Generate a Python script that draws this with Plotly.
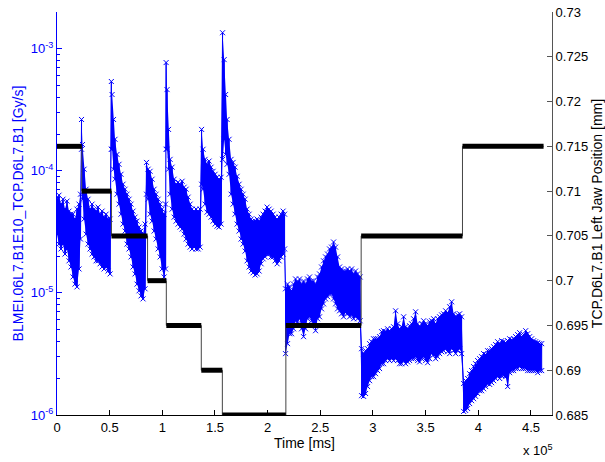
import plotly.graph_objects as go

# ---- BLM loss rate: upper / lower envelope of the sampled signal [Gy/s] ----
time_ms = [
    0, 1900, 3800, 5700, 7600, 9500, 11400, 13300, 15200, 17100, 19000, 20900, 22300,
    23300, 24200, 25700, 27600, 29500, 31400, 33300, 35200, 37100, 39000, 40900, 42800,
    44700, 46600, 48500, 50400,
    51600, 52300, 53700, 55100, 57000, 58900, 60800, 62700, 64600, 66500, 68400, 70300,
    72200, 74100, 76000, 77900, 79800, 81700, 83600,
    85000, 86500, 88400, 90300, 92200, 94100, 96000, 97900, 99800, 101700, 103100,
    103600, 104500, 105900, 107400, 109300, 111200, 113100, 115000, 116900, 118800,
    120700, 122600, 124500, 126400, 128300, 130200, 132100, 134000, 135900,
    137300, 138700, 140600, 142500, 144400, 146300, 148200, 150100, 152000, 153900, 155800,
    157200, 158700, 160100, 161500, 163400, 165300, 167200, 169100, 171000, 172900,
    174800, 176700, 178600, 180500, 182400, 184300, 186200, 188100, 190000, 191900,
    193800, 195700, 197600, 199500, 201400, 203300, 205200, 207100, 209000, 210900,
    212800, 214700, 216100,
    217000, 218900, 220800, 222700, 224600, 226500, 228400, 230300, 232200, 234100,
    236000, 237900, 239800, 241700, 243600, 245500, 247400, 249300, 251200, 253100,
    255000, 256900, 258800, 260700, 262600, 264500, 266400, 268300, 270200, 272100,
    274000, 275900, 277800, 279700, 281600, 283500, 285400, 287800,
    289200, 291100, 293000, 294900, 296800, 298700, 300600, 302500, 304400, 306300,
    308200, 310100, 312000, 313900, 315800, 317700, 319600, 321500, 323400, 325300,
    327200, 329100, 331000, 332900, 334800, 336700, 338600, 340500, 342400, 344300,
    346200, 348100, 350000, 351900, 353800, 355700, 357600, 359500, 361400, 363300,
    365200, 367100, 369000, 370900, 372800, 374700, 376600, 378500, 380400, 382300, 384200,
    386100, 388000, 389900, 391800, 393700, 395600, 397500, 399400, 401300, 403200,
    405100, 407000, 408900, 410800, 412700, 414600, 416500, 418400, 420300, 422200,
    424100, 426000, 427900, 429800, 431700, 433600, 435500, 437400, 439300, 441200,
    443100, 445000, 446900, 448800, 450700, 452600, 454500, 456400, 458300, 460200,
]
blm_hi = [
    5.85e-5, 6.31e-5, 5.33e-5, 5.85e-5, 4.85e-5, 5.64e-5, 4.67e-5, 4.41e-5, 4.41e-5, 4.02e-5, 4.85e-5, 5.33e-5, 6.43e-5,
    2.63e-4, 1.64e-4, 1.03e-4, 7.06e-5, 5.85e-5, 4.85e-5, 5.33e-5, 4.85e-5, 4.67e-5, 5.04e-5, 4.41e-5, 4.67e-5,
    4.17e-5, 4.41e-5, 4.02e-5, 4.02e-5,
    5.38e-4, 4.21e-4, 2.63e-4, 1.81e-4, 1.36e-4, 1.13e-4, 9.36e-5, 7.76e-5, 7.06e-5, 6.43e-5, 5.85e-5, 5.33e-5,
    4.67e-5, 4.17e-5, 3.87e-5, 3.46e-5, 3.21e-5, 3.03e-5, 3.66e-5,
    1.17e-4, 1.03e-4, 9.9e-5, 8.53e-5, 7.06e-5, 6.43e-5, 5.85e-5, 5.33e-5, 4.85e-5, 4.41e-5, 5.33e-5,
    7.69e-4, 4.62e-4, 2.18e-4, 1.24e-4, 1.07e-4, 8.53e-5, 7.76e-5, 8.06e-5, 7.76e-5, 8.21e-5,
    7.33e-5, 7.06e-5, 6.08e-5, 5.33e-5, 4.85e-5, 4.67e-5, 4.85e-5, 4.67e-5, 4.85e-5,
    2.18e-4, 1.50e-4, 1.24e-4, 1.13e-4, 1.20e-4, 1.07e-4, 9.9e-5, 9.36e-5, 8.85e-5, 8.53e-5, 8.85e-5,
    1.35e-3, 8.13e-4, 4.21e-4, 2.63e-4, 1.81e-4, 1.24e-4, 1.17e-4, 1.07e-4, 9.0e-5, 7.76e-5,
    7.06e-5, 6.43e-5, 5.85e-5, 4.85e-5, 4.41e-5, 4.02e-5, 3.87e-5, 3.87e-5, 4.02e-5, 3.87e-5,
    4.17e-5, 4.41e-5, 4.67e-5, 5.04e-5, 4.85e-5, 4.67e-5, 4.41e-5, 4.17e-5, 4.02e-5, 4.17e-5,
    4.41e-5, 4.67e-5, 4.41e-5,
    1.08e-5, 1.18e-5, 1.12e-5, 1.04e-5, 1.18e-5, 1.30e-5, 1.23e-5, 1.30e-5, 1.18e-5, 1.25e-5,
    1.18e-5, 1.30e-5, 1.35e-5, 1.25e-5, 1.25e-5, 1.18e-5, 1.35e-5, 1.43e-5, 1.63e-5, 1.83e-5,
    1.97e-5, 2.08e-5, 2.29e-5, 2.37e-5, 2.61e-5, 2.37e-5, 1.97e-5, 1.63e-5, 1.57e-5, 1.51e-5,
    1.51e-5, 1.57e-5, 1.51e-5, 1.57e-5, 1.43e-5, 1.51e-5, 1.43e-5, 1.35e-5,
    3.49e-6, 3.18e-6, 3.36e-6, 3.49e-6, 3.84e-6, 3.98e-6, 4.21e-6, 4.21e-6, 4.21e-6, 4.38e-6,
    4.81e-6, 4.9e-6, 4.81e-6, 5.08e-6, 4.9e-6, 5.08e-6, 5.28e-6, 7.13e-6, 5.58e-6, 5.08e-6,
    5.28e-6, 6.37e-6, 5.28e-6, 5.08e-6, 5.38e-6, 5.58e-6, 6.14e-6, 7.0e-6, 5.58e-6, 5.28e-6,
    5.58e-6, 5.91e-6, 5.58e-6, 5.38e-6, 5.8e-6, 5.91e-6, 6.14e-6, 5.58e-6, 6.14e-6, 6.37e-6,
    6.6e-6, 6.74e-6, 7.13e-6, 6.9e-6, 7.7e-6, 8.45e-6, 6.74e-6, 6.37e-6, 6.6e-6, 6.74e-6, 6.37e-6,
    1.81e-6, 1.91e-6, 1.99e-6, 2.18e-6, 2.31e-6, 2.49e-6, 2.63e-6, 2.79e-6, 2.89e-6, 3.0e-6,
    3.18e-6, 3.12e-6, 3.36e-6, 3.36e-6, 3.49e-6, 3.62e-6, 3.77e-6, 3.98e-6, 3.84e-6, 4.06e-6,
    3.98e-6, 3.91e-6, 4.06e-6, 4.21e-6, 4.13e-6, 4.21e-6, 4.38e-6, 4.55e-6, 4.72e-6, 4.38e-6,
    4.55e-6, 4.9e-6, 4.63e-6, 4.38e-6, 4.21e-6, 4.06e-6, 3.98e-6, 3.91e-6, 3.84e-6, 3.84e-6,
]
blm_lo = [
    3.03e-5, 2.51e-5, 2.29e-5, 2.51e-5, 2.08e-5, 2.29e-5, 1.83e-5, 1.63e-5, 1.35e-5, 1.18e-5, 1.12e-5, 1.57e-5, 2.76e-5,
    1.50e-4, 5.85e-5, 4.02e-5, 3.03e-5, 2.51e-5, 2.29e-5, 2.08e-5, 1.97e-5, 1.83e-5, 1.83e-5, 1.73e-5, 1.63e-5,
    1.57e-5, 1.63e-5, 1.51e-5, 1.43e-5,
    1.50e-4, 1.50e-4, 1.03e-4, 8.53e-5, 6.43e-5, 5.33e-5, 4.41e-5, 3.66e-5, 3.21e-5, 2.51e-5, 2.29e-5, 1.97e-5,
    1.63e-5, 1.43e-5, 1.18e-5, 1.04e-5, 9.45e-6, 8.93e-6, 1.08e-5,
    6.43e-5, 5.85e-5, 4.41e-5, 3.87e-5, 3.21e-5, 2.76e-5, 2.29e-5, 1.97e-5, 1.57e-5, 1.35e-5, 1.57e-5,
    1.50e-4, 1.50e-4, 1.03e-4, 6.43e-5, 4.85e-5, 4.17e-5, 3.87e-5, 3.66e-5, 3.46e-5, 3.33e-5,
    3.03e-5, 2.76e-5, 2.51e-5, 2.37e-5, 2.29e-5, 2.37e-5, 2.29e-5, 2.29e-5, 2.37e-5,
    7.76e-5, 7.06e-5, 5.33e-5, 4.58e-5, 4.41e-5, 4.17e-5, 3.87e-5, 3.66e-5, 3.52e-5, 3.46e-5, 3.66e-5,
    1.24e-4, 1.81e-4, 1.36e-4, 1.13e-4, 9.36e-5, 6.43e-5, 5.33e-5, 4.41e-5, 3.66e-5, 3.21e-5,
    2.76e-5, 2.51e-5, 2.20e-5, 1.83e-5, 1.63e-5, 1.51e-5, 1.46e-5, 1.40e-5, 1.43e-5, 1.51e-5,
    1.73e-5, 1.90e-5, 1.97e-5, 2.08e-5, 2.08e-5, 1.97e-5, 1.97e-5, 1.83e-5, 1.73e-5, 1.83e-5,
    1.97e-5, 2.08e-5, 2.29e-5,
    3.18e-6, 3.84e-6, 4.63e-6, 4.63e-6, 5.08e-6, 5.91e-6, 5.58e-6, 6.14e-6, 5.08e-6, 4.38e-6,
    5.08e-6, 6.14e-6, 6.37e-6, 5.91e-6, 5.58e-6, 4.9e-6, 6.14e-6, 6.37e-6, 7.40e-6, 8.13e-6,
    8.93e-6, 9.3e-6, 9.8e-6, 9.8e-6, 8.93e-6, 8.13e-6, 7.40e-6, 7.13e-6, 6.74e-6, 6.37e-6,
    6.9e-6, 6.74e-6, 6.37e-6, 6.6e-6, 6.14e-6, 6.37e-6, 6.14e-6, 5.91e-6,
    1.44e-6, 1.42e-6, 1.50e-6, 1.71e-6, 1.91e-6, 2.06e-6, 2.06e-6, 2.18e-6, 2.31e-6, 2.40e-6,
    2.63e-6, 2.63e-6, 2.79e-6, 2.89e-6, 2.79e-6, 2.89e-6, 2.79e-6, 2.89e-6, 2.79e-6, 2.63e-6,
    2.63e-6, 2.79e-6, 2.63e-6, 2.72e-6, 2.79e-6, 2.89e-6, 2.89e-6, 3.0e-6, 2.79e-6, 2.72e-6,
    2.89e-6, 3.0e-6, 2.79e-6, 2.68e-6, 2.89e-6, 3.18e-6, 3.12e-6, 2.89e-6, 3.0e-6, 3.18e-6,
    3.3e-6, 3.36e-6, 3.49e-6, 3.3e-6, 3.18e-6, 3.49e-6, 3.36e-6, 3.18e-6, 3.36e-6, 3.49e-6, 3.18e-6,
    1.07e-6, 1.09e-6, 1.13e-6, 1.24e-6, 1.31e-6, 1.36e-6, 1.42e-6, 1.50e-6, 1.58e-6, 1.58e-6,
    1.64e-6, 1.71e-6, 1.81e-6, 1.78e-6, 1.84e-6, 1.91e-6, 1.99e-6, 2.06e-6, 1.99e-6, 2.10e-6,
    2.10e-6, 2.06e-6, 1.71e-6, 2.22e-6, 2.31e-6, 2.31e-6, 2.40e-6, 2.40e-6, 2.49e-6, 2.40e-6,
    2.40e-6, 2.40e-6, 2.31e-6, 2.31e-6, 2.31e-6, 2.31e-6, 2.31e-6, 2.22e-6, 2.31e-6, 2.31e-6,
]

# ---- TCP.D6L7.B1 left jaw position steps [mm] ----
jaw_start_ms = [0, 23500, 51700, 86000, 103800, 137000, 157000, 217300, 288800, 385000]
jaw_end_ms = [23500, 51700, 86000, 103800, 137000, 157000, 217300, 288800, 385000, 462000]
jaw_pos_mm = [0.715, 0.710, 0.705, 0.700, 0.695, 0.690, 0.685, 0.695, 0.705, 0.715]

# ---- axis ticks ----
x_tick_vals = [0, 50000, 100000, 150000, 200000, 250000, 300000, 350000, 400000, 450000]
x_tick_text = ["0", "0.5", "1", "1.5", "2", "2.5", "3", "3.5", "4", "4.5"]
y_tick_vals = [1e-6, 1e-5, 1e-4, 1e-3]
y_tick_text = ["10<sup>-6</sup>", "10<sup>-5</sup>", "10<sup>-4</sup>", "10<sup>-3</sup>"]
y2_tick_vals = [0.685, 0.69, 0.695, 0.70, 0.705, 0.71, 0.715, 0.72, 0.725, 0.73]
y2_tick_text = ["0.685", "0.69", "0.695", "0.7", "0.705", "0.71", "0.715", "0.72", "0.725", "0.73"]

BLUE = "rgb(0,0,255)"
FONT = "Liberation Sans, Arial, Helvetica, sans-serif"

fig = go.Figure()

# solid body of the noise band
fig.add_trace(go.Scatter(
    x=time_ms + time_ms[::-1], y=blm_hi + blm_lo[::-1],
    fill="toself", fillcolor=BLUE, line=dict(width=0), mode="lines",
    hoverinfo="skip", showlegend=False, yaxis="y",
))

# sampled trace zig-zagging between envelope extremes, with x markers
zz_x, zz_y = [], []
for t, h, l in zip(time_ms, blm_hi, blm_lo):
    zz_x += [t, t]
    zz_y += [h, l]
fig.add_trace(go.Scatter(
    x=zz_x, y=zz_y, mode="lines+markers",
    line=dict(color=BLUE, width=1),
    marker=dict(symbol="x-thin", size=5, line=dict(color=BLUE, width=1)),
    showlegend=False, yaxis="y",
))

# jaw position: thin step outline plus thick plateaus
step_x = jaw_start_ms + [jaw_end_ms[-1]]
step_y = jaw_pos_mm + [jaw_pos_mm[-1]]
fig.add_trace(go.Scatter(
    x=step_x, y=step_y, mode="lines", line=dict(color="#444", width=1, shape="hv"),
    showlegend=False, yaxis="y2",
))
plat_x, plat_y = [], []
for s, e, p in zip(jaw_start_ms, jaw_end_ms, jaw_pos_mm):
    plat_x += [s, e, None]
    plat_y += [p, p, None]
fig.add_trace(go.Scatter(
    x=plat_x, y=plat_y, mode="lines", line=dict(color="black", width=5),
    showlegend=False, yaxis="y2",
))

fig.update_layout(
    width=605, height=462,
    margin=dict(l=57, r=53, t=12, b=47),
    paper_bgcolor="white", plot_bgcolor="white",
    font=dict(family=FONT, size=13, color="black"),
    showlegend=False,
    xaxis=dict(
        range=[0, 470000], tickmode="array", tickvals=x_tick_vals, ticktext=x_tick_text,
        ticks="inside", ticklen=5, tickcolor="black", showline=True, linecolor="black",
        linewidth=1, showgrid=False, zeroline=False, automargin=False,
        title=dict(text="Time [ms]", standoff=1, font=dict(size=14)),
    ),
    yaxis=dict(
        type="log", range=[-6, -2.7], tickmode="array", tickvals=y_tick_vals,
        ticktext=y_tick_text, ticks="inside", ticklen=5, tickcolor=BLUE,
        tickfont=dict(color=BLUE, size=13),
        minor=dict(ticks="inside", ticklen=3, tickcolor=BLUE,
                   tickvals=[m * 10.0 ** e for e in range(-6, -2) for m in range(2, 10)
                             if m * 10.0 ** e < 10 ** -2.7]),
        showline=True, linecolor=BLUE, linewidth=1, showgrid=False, zeroline=False,
        automargin=False,
        title=dict(text="BLMEI.06L7.B1E10_TCP.D6L7.B1 [Gy/s]", standoff=3,
                   font=dict(color=BLUE, size=14)),
    ),
    yaxis2=dict(
        overlaying="y", side="right", range=[0.685, 0.73],
        tickmode="array", tickvals=y2_tick_vals, ticktext=y2_tick_text,
        ticks="inside", ticklen=5, tickcolor="#555",
        showline=True, linecolor="#555", linewidth=1, showgrid=False, zeroline=False,
        automargin=False,
        title=dict(text="TCP.D6L7.B1 Left Jaw Position [mm]", standoff=5, font=dict(size=14)),
    ),
    annotations=[dict(
        text="x 10<sup>5</sup>", xref="paper", yref="paper", x=0.972, y=-0.088,
        xanchor="center", yanchor="middle", showarrow=False, font=dict(size=13),
    )],
)

fig.write_html("out.html")
